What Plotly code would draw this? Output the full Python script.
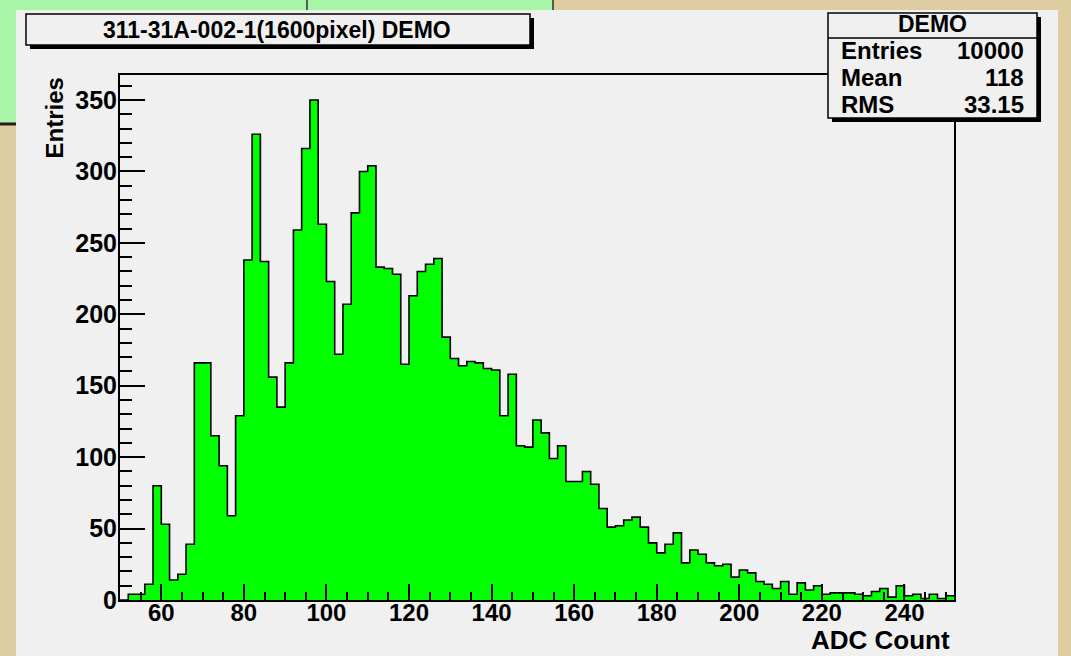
import plotly.graph_objects as go

# ADC spectrum, 2-count wide bins starting at 50
bin_start = 50
bin_width = 2
counts = [
    0, 4, 4, 11, 80, 53, 14, 18, 39, 166,
    166, 115, 94, 59, 129, 238, 326, 237, 156, 135,
    166, 259, 316, 350, 263, 223, 172, 207, 271, 300,
    304, 233, 232, 228, 165, 213, 230, 235, 239, 184,
    169, 164, 167, 166, 162, 161, 129, 158, 108, 107,
    126, 117, 99, 108, 83, 83, 90, 81, 64, 51,
    52, 56, 58, 51, 40, 33, 39, 47, 26, 35,
    32, 26, 24, 25, 16, 21, 19, 13, 11, 8,
    13, 4, 12, 7, 10, 4, 5, 5, 5, 4,
    3, 6, 8, 2, 10, 3, 4, 1, 4, 1,
    3,
]
title_text = "311-31A-002-1(1600pixel) DEMO"
stats_name = "DEMO"
stats_rows = [("Entries", "10000"), ("Mean", "118"), ("RMS", "33.15")]
x_title = "ADC Count"
y_title = "Entries"

edges = [bin_start + bin_width * i for i in range(len(counts) + 1)]
x_range = [edges[0], edges[-1]]
y_range = [0, max(counts) * 1.05]

# page geometry (pixels)
W, H = 1071, 656
L, R, T, B = 120, 954, 75, 600
PW, PH = R - L, B - T


def px(xp):
    return (xp - L) / PW


def py(yp):
    return (B - yp) / PH


BEIGE = "#dfcda2"
PANEL = "#f0f0f0"
GREEN_BG = "#a8f5a8"
FONT = "Liberation Sans"

fig = go.Figure()
fig.add_trace(go.Scatter(
    x=edges[:-1] + [edges[-1]],
    y=counts + [counts[-1]],
    mode="lines",
    line=dict(shape="hv", color="black", width=1.6),
    fill="tozeroy",
    fillcolor="#00ff00",
    hoverinfo="skip",
    showlegend=False,
))

shapes = []


def rect(x0, y0, x1, y1, fill, line_color=None, lw=0, layer="below"):
    shapes.append(dict(
        type="rect", xref="paper", yref="paper",
        x0=px(x0), x1=px(x1), y0=py(y0), y1=py(y1),
        fillcolor=fill,
        line=dict(color=line_color or fill, width=lw),
        layer=layer,
    ))


def line(x0, y0, x1, y1, color="black", lw=1, layer="below"):
    shapes.append(dict(
        type="line", xref="paper", yref="paper",
        x0=px(x0), x1=px(x1), y0=py(y0), y1=py(y1),
        line=dict(color=color, width=lw), layer=layer,
    ))


# slide backdrop: green table corner behind the canvas
rect(0, 0, 553, 122, GREEN_BG)
line(0, 124, 16, 124, "#202020", 3)
line(307, 0, 307, 10, "#303030", 1.5)
line(553, 0, 553, 10, "#303030", 1.5)
# canvas
rect(16, 10, 1058, 656, PANEL)

# title box with shadow
rect(30, 18, 534, 49, "black", layer="above")
rect(26, 14, 530, 45, PANEL, "black", 1.5, layer="above")
# statistics box with shadow
rect(832, 17, 1041, 122, "black", layer="above")
rect(828, 13, 1037, 118, PANEL, "black", 1.5, layer="above")
line(828, 38, 1037, 38, "black", 1.5, layer="above")

annotations = []


def text(s, x, y, size, xanchor="center", yanchor="middle", angle=0):
    annotations.append(dict(
        text=f"<b>{s}</b>", xref="paper", yref="paper",
        x=px(x), y=py(y), xanchor=xanchor, yanchor=yanchor,
        showarrow=False, textangle=angle,
        font=dict(family=FONT, size=size, color="black"),
    ))


text(title_text, 277, 30, 23)
text(stats_name, 932, 24, 23)
for i, (k, v) in enumerate(stats_rows):
    yy = 51 + i * 26.7
    text(k, 839, yy, 24, xanchor="left")
    text(v, 1026, yy, 24, xanchor="right")
text(x_title, 952, 640, 26, xanchor="right")
text(y_title, 54, 76, 24, xanchor="center", yanchor="top", angle=-90)

axis_common = dict(
    showgrid=False, zeroline=False,
    showline=True, linecolor="black", linewidth=2, mirror=True,
    ticks="inside", tickcolor="black", tickwidth=1.5,
)

fig.update_layout(
    width=W, height=H,
    margin=dict(l=L, r=W - R, t=T, b=H - B),
    paper_bgcolor=BEIGE,
    plot_bgcolor=PANEL,
    shapes=shapes,
    annotations=annotations,
    xaxis=dict(
        range=x_range, tick0=0, dtick=20, ticklen=16,
        minor=dict(dtick=5, ticks="inside", ticklen=8, tickcolor="black", tickwidth=1.5),
        tickfont=dict(family=FONT, size=24, color="black", weight="bold"),
        ticklabelstandoff=-10,
        **axis_common,
    ),
    yaxis=dict(
        range=y_range, tick0=0, dtick=50, ticklen=25,
        minor=dict(dtick=10, ticks="inside", ticklen=12, tickcolor="black", tickwidth=1.5),
        tickfont=dict(family=FONT, size=25, color="black", weight="bold"),
        ticklabelstandoff=-4,
        **axis_common,
    ),
)

fig.write_html("out.html")
